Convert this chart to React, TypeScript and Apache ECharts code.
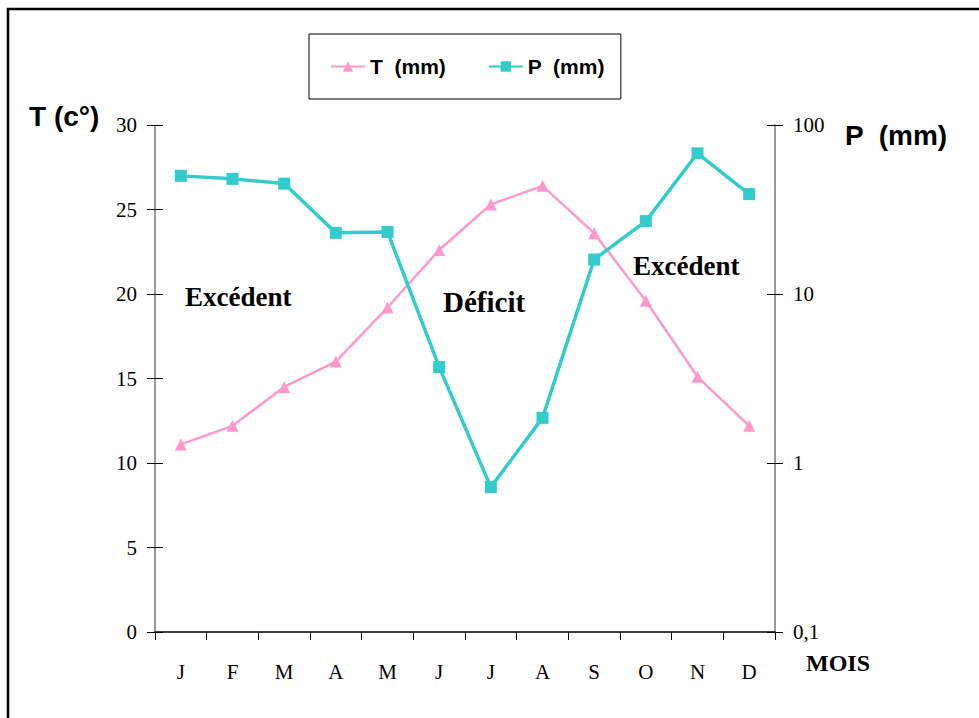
import React, { useEffect, useRef } from "react";
import * as echarts from "echarts";

// Mois de l'année
const months = ["J", "F", "M", "A", "M", "J", "J", "A", "S", "O", "N", "D"];
// Températures moyennes mensuelles (°C)
const temperature = [11.1, 12.2, 14.5, 16.0, 19.2, 22.6, 25.3, 26.4, 23.6, 19.6, 15.1, 12.2];
// Précipitations moyennes mensuelles (mm), échelle logarithmique
const precipitation = [50, 48, 45, 23, 23.3, 3.7, 0.72, 1.85, 16, 27, 68, 39];

const serif = "'Liberation Serif', 'Times New Roman', serif";
const sans = "'Liberation Sans', Arial, sans-serif";

export default function App() {
  const ref = useRef<HTMLDivElement>(null);

  useEffect(() => {
    document.body.style.margin = "0";
    const chart = echarts.init(ref.current!, null, { renderer: "svg" });
    const tickStyle = { color: "#000", width: 1 };
    chart.setOption({
      animation: false,
      backgroundColor: "#fff",
      grid: { left: 155, right: 204, top: 125, bottom: 86 },
      legend: {
        left: 309,
        top: 34,
        padding: [22, 16, 22, 21],
        borderColor: "#000",
        borderWidth: 1,
        itemWidth: 34,
        itemHeight: 13,
        itemGap: 42,
        textStyle: { fontFamily: sans, fontWeight: "bold", fontSize: 21, color: "#000" },
        data: ["T  (mm)", "P  (mm)"],
      },
      xAxis: {
        type: "category",
        data: months,
        boundaryGap: true,
        axisLine: { lineStyle: { color: "#000", width: 1.5 } },
        axisTick: { show: true, length: 8, lineStyle: tickStyle },
        axisLabel: { fontFamily: serif, fontSize: 21, color: "#000", margin: 29 },
      },
      yAxis: [
        {
          type: "value",
          position: "left",
          min: 0,
          max: 30,
          interval: 5,
          splitLine: { show: false },
          axisLine: { show: true, lineStyle: { color: "#777", width: 1.5 } },
          axisTick: { show: true, length: 8, lineStyle: tickStyle },
          axisLabel: { fontFamily: serif, fontSize: 21, color: "#000", margin: 18 },
        },
        {
          type: "log",
          logBase: 10,
          position: "right",
          min: 0.1,
          max: 100,
          splitLine: { show: false },
          axisLine: { show: true, lineStyle: { color: "#777", width: 1.5 } },
          axisTick: { show: true, length: 8, lineStyle: tickStyle },
          axisLabel: {
            fontFamily: serif,
            fontSize: 21,
            color: "#000",
            margin: 18,
            formatter: (v: number) => String(v).replace(".", ","),
          },
        },
        // inner halves of the crossing tick marks
        {
          type: "value",
          position: "left",
          min: 0,
          max: 30,
          interval: 5,
          splitLine: { show: false },
          axisLine: { show: false },
          axisTick: { show: true, inside: true, length: 8, lineStyle: tickStyle },
          axisLabel: { show: false },
        },
        {
          type: "log",
          logBase: 10,
          position: "right",
          min: 0.1,
          max: 100,
          splitLine: { show: false },
          axisLine: { show: false },
          axisTick: { show: true, inside: true, length: 8, lineStyle: tickStyle },
          axisLabel: { show: false },
        },
      ],
      series: [
        {
          name: "T  (mm)",
          type: "line",
          yAxisIndex: 0,
          data: temperature,
          symbol: "triangle",
          symbolSize: 12,
          color: "#FF99CC",
          lineStyle: { width: 2.5, color: "#FF99CC" },
          itemStyle: { color: "#FF99CC" },
        },
        {
          name: "P  (mm)",
          type: "line",
          yAxisIndex: 1,
          data: precipitation,
          symbol: "rect",
          symbolSize: 12,
          color: "#33CCCC",
          lineStyle: { width: 3.5, color: "#33CCCC" },
          itemStyle: { color: "#33CCCC" },
        },
      ],
      graphic: [
        {
          type: "rect",
          shape: { x: 8, y: 9, width: 1100, height: 900 },
          style: { fill: "none", stroke: "#000", lineWidth: 2.5 },
          silent: true,
        },
        {
          type: "text",
          x: 29,
          y: 102,
          style: { text: "T (c°)", font: `bold 28px ${sans}`, fill: "#000" },
        },
        {
          type: "text",
          x: 845,
          y: 121,
          style: { text: "P  (mm)", font: `bold 28px ${sans}`, fill: "#000" },
        },
        {
          type: "text",
          x: 806,
          y: 651,
          style: { text: "MOIS", font: `bold 24px ${serif}`, fill: "#000" },
        },
        {
          type: "text",
          x: 185,
          y: 283,
          style: { text: "Excédent", font: `bold 27px ${serif}`, fill: "#000" },
        },
        {
          type: "text",
          x: 443,
          y: 287,
          style: { text: "Déficit", font: `bold 29px ${serif}`, fill: "#000" },
        },
        {
          type: "text",
          x: 633,
          y: 252,
          style: { text: "Excédent", font: `bold 27px ${serif}`, fill: "#000" },
        },
      ],
    });
    return () => chart.dispose();
  }, []);

  return <div ref={ref} style={{ width: 979, height: 718 }} />;
}
